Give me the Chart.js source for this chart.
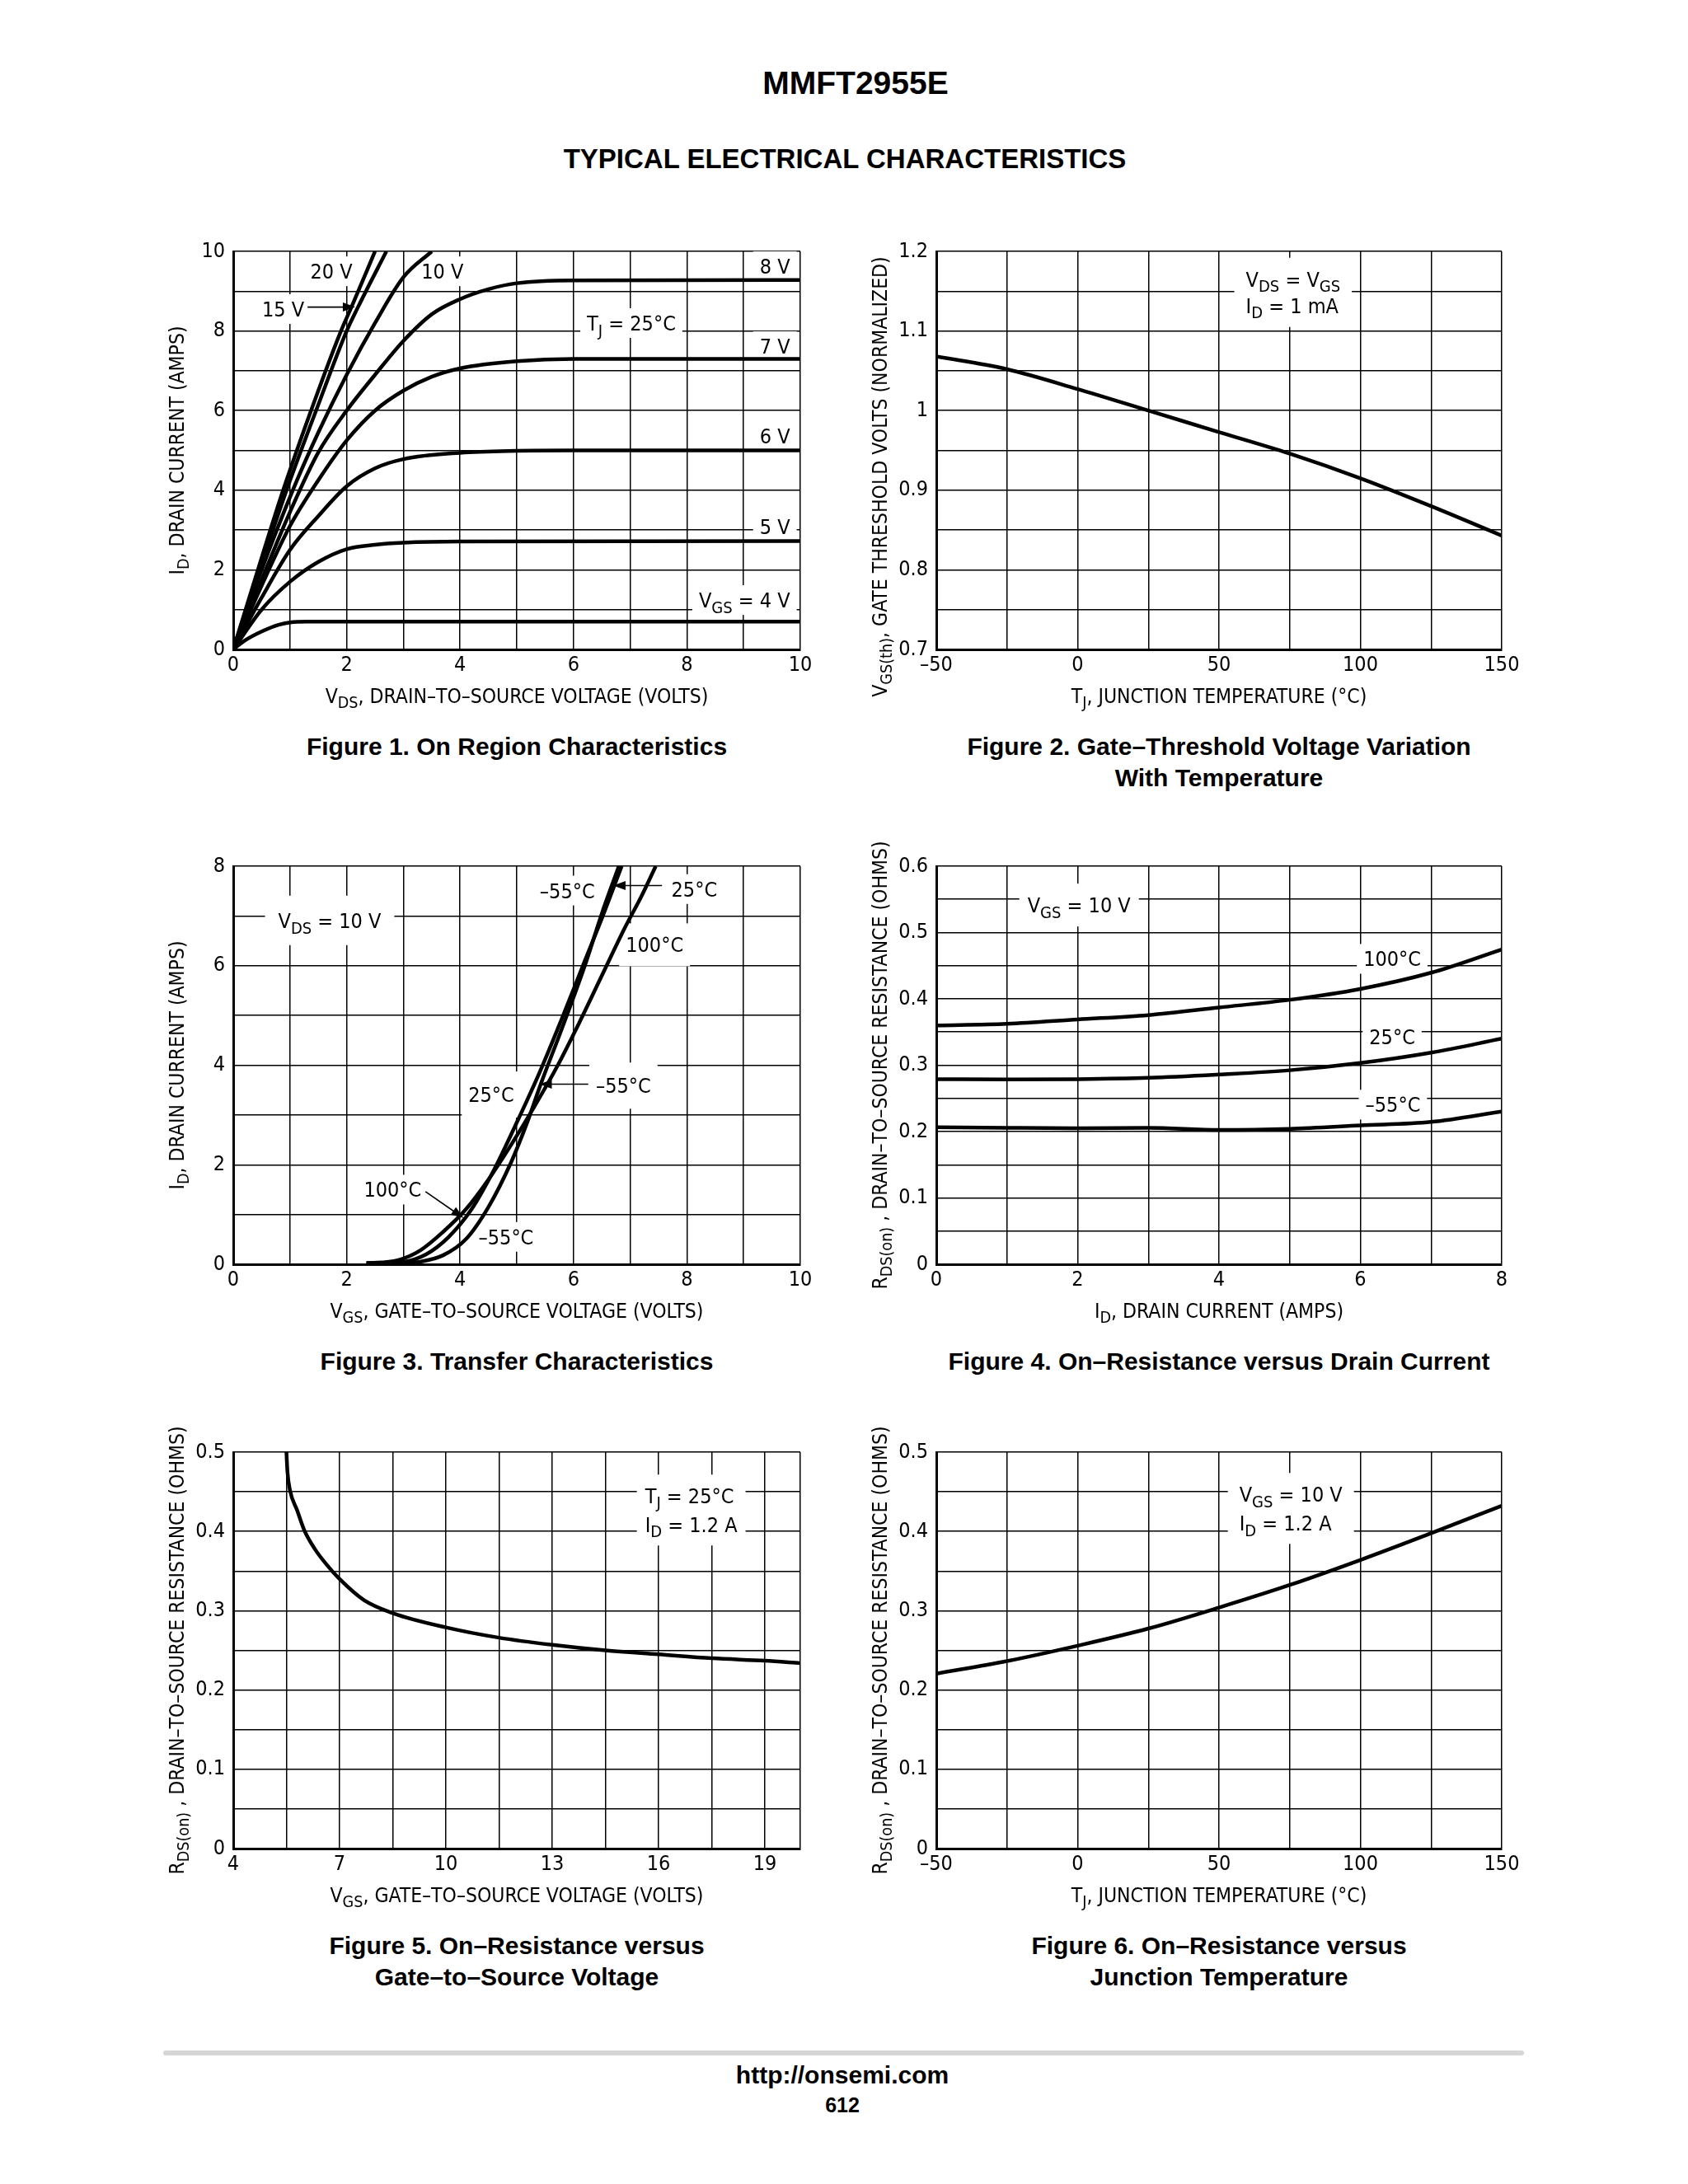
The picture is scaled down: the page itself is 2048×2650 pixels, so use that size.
<!DOCTYPE html>
<html>
<head>
<meta charset="utf-8">
<script src="https://cdn.jsdelivr.net/npm/chart.js@4.4.0/dist/chart.umd.min.js"></script>
<style>
  body { margin: 0; background: #fff; }
  #page { position: relative; width: 2048px; height: 2650px; background: #fff; color: #000;
          font-family: "Liberation Sans", Arial, sans-serif; overflow: hidden; }
  .t { position: absolute; white-space: nowrap; font-weight: bold; transform: translate(-50%, -50%); }
  .cap { font-size: 30px; }
  canvas { position: absolute; }
  #rule { position: absolute; left: 198px; top: 2488px; width: 1651px; height: 6px; background: #d6d6d6; border-radius: 3px; }
</style>
</head>
<body>
<div id="page">
  <div class="t" style="left:1038px; top:101px; font-size:39px;">MMFT2955E</div>
  <div class="t" style="left:1025px; top:193px; font-size:33px;">TYPICAL ELECTRICAL CHARACTERISTICS</div>

  <div class="t cap" style="left:627px; top:906px;">Figure 1. On Region Characteristics</div>
  <div class="t cap" style="left:1479px; top:906px;">Figure 2. Gate–Threshold Voltage Variation</div>
  <div class="t cap" style="left:1479px; top:944px;">With Temperature</div>
  <div class="t cap" style="left:627px; top:1652px;">Figure 3. Transfer Characteristics</div>
  <div class="t cap" style="left:1479px; top:1652px;">Figure 4. On–Resistance versus Drain Current</div>
  <div class="t cap" style="left:627px; top:2361px;">Figure 5. On–Resistance versus</div>
  <div class="t cap" style="left:627px; top:2399px;">Gate–to–Source Voltage</div>
  <div class="t cap" style="left:1479px; top:2361px;">Figure 6. On–Resistance versus</div>
  <div class="t cap" style="left:1479px; top:2399px;">Junction Temperature</div>

  <div id="rule"></div>
  <div class="t" style="left:1022px; top:2518px; font-size:30px;">http://onsemi.com</div>
  <div class="t" style="left:1022px; top:2554px; font-size:25px;">612</div>
</div>

<script>
// ---- Figure 1: on region characteristics (VDS in volts, ID in amps) ----
const f1_20V_vds = [0, 0.5, 0.88, 1.5, 1.9, 2.1, 2.5];
const f1_20V_id  = [0, 2.3, 4.0, 6.5, 8.0, 8.65, 10];
const f1_15V_vds = [0, 0.5, 0.94, 1.5, 2.0, 2.2, 2.7];
const f1_15V_id  = [0, 2.15, 4.0, 6.15, 8.0, 8.6, 10];
const f1_10V_vds = [0, 0.5, 1.05, 1.5, 2, 2.5, 3, 3.5];
const f1_10V_id  = [0, 2.0, 4.0, 5.45, 6.9, 8.2, 9.35, 10];
const f1_8V_vds  = [0, 0.5, 1, 1.5, 2, 2.5, 3, 3.5, 4, 4.5, 5, 6, 10];
const f1_8V_id   = [0, 1.75, 3.45, 4.95, 6.0, 6.9, 7.75, 8.42, 8.8, 9.05, 9.2, 9.27, 9.28];
const f1_7V_vds  = [0, 0.5, 1, 1.5, 2, 2.5, 3, 3.5, 4, 5, 6, 10];
const f1_7V_id   = [0, 1.6, 3.1, 4.25, 5.25, 6.0, 6.5, 6.85, 7.06, 7.24, 7.3, 7.3];
const f1_6V_vds  = [0, 0.5, 1, 1.5, 2, 2.5, 3, 4, 5, 6, 10];
const f1_6V_id   = [0, 1.3, 2.5, 3.35, 4.1, 4.55, 4.78, 4.94, 4.99, 5.0, 5.0];
const f1_5V_vds  = [0, 0.5, 1, 1.5, 2, 2.5, 3, 4, 10];
const f1_5V_id   = [0, 1.0, 1.7, 2.2, 2.52, 2.63, 2.68, 2.71, 2.72];
const f1_4V_vds  = [0, 0.2, 0.5, 0.8, 1.0, 1.3, 2, 10];
const f1_4V_id   = [0, 0.22, 0.45, 0.62, 0.68, 0.7, 0.7, 0.7];
const f1XLabels = [0, 2, 4, 6, 8, 10];
const f1YLabels = [0, 2, 4, 6, 8, 10];

// ---- Figure 2: gate threshold vs temperature ----
const f2_tj  = [-50, -25, 0, 25, 50, 75, 100, 125, 150];
const f2_vth = [1.068, 1.052, 1.027, 1.0, 0.973, 0.946, 0.915, 0.880, 0.843];
const f2XLabels = [-50, 0, 50, 100, 150];
const f2YLabels = [0.7, 0.8, 0.9, 1, 1.1, 1.2];

// ---- Figure 3: transfer characteristics ----
const f3_m55_vgs = [2.35, 3.0, 3.3, 3.7, 4.1, 4.5, 4.9, 5.2, 5.4, 5.8, 6.2, 6.5, 6.8];
const f3_m55_id  = [0.02, 0.02, 0.05, 0.18, 0.5, 1.15, 2.05, 2.9, 3.55, 4.75, 6.0, 7.05, 8.0];
const f3_25_vgs  = [2.35, 3.0, 3.4, 3.8, 4.2, 4.6, 5.0, 5.4, 5.8, 6.2, 6.5, 6.85];
const f3_25_id   = [0.02, 0.05, 0.2, 0.55, 1.1, 1.9, 2.85, 3.85, 4.95, 6.1, 6.95, 8.0];
const f3_100_vgs = [2.35, 2.9, 3.3, 3.7, 4.1, 4.5, 4.9, 5.3, 5.7, 6.1, 6.5, 6.9, 7.2, 7.45];
const f3_100_id  = [0.02, 0.08, 0.28, 0.65, 1.1, 1.7, 2.4, 3.15, 3.95, 4.85, 5.8, 6.75, 7.4, 8.0];
const f3XLabels = [0, 2, 4, 6, 8, 10];
const f3YLabels = [0, 2, 4, 6, 8];

// ---- Figure 4: on-resistance vs drain current ----
const f4_id   = [0, 1, 2, 3, 4, 5, 6, 7, 8];
const f4_100  = [0.360, 0.3625, 0.369, 0.3756, 0.387, 0.3986, 0.415, 0.4394, 0.4745];
const f4_25   = [0.279, 0.2785, 0.279, 0.281, 0.286, 0.2924, 0.3034, 0.319, 0.340];
const f4_m55  = [0.2066, 0.2056, 0.205, 0.2056, 0.2024, 0.204, 0.2092, 0.2145, 0.2302];
const f4XLabels = [0, 2, 4, 6, 8];
const f4YLabels = [0, 0.1, 0.2, 0.3, 0.4, 0.5, 0.6];

// ---- Figure 5: on-resistance vs gate-to-source voltage ----
const f5_vgs = [5.5, 5.53, 5.6, 5.8, 6.0, 6.3, 6.6, 7.0, 7.7, 8.5, 10, 11.5, 13, 14.5, 16, 17.5, 19, 20];
const f5_rds = [0.5, 0.475, 0.452, 0.427, 0.402, 0.378, 0.36, 0.34, 0.313, 0.297, 0.279, 0.266, 0.257, 0.25, 0.245, 0.24, 0.237, 0.234];
const f5XLabels = [4, 7, 10, 13, 16, 19];
const f5YLabels = [0, 0.1, 0.2, 0.3, 0.4, 0.5];

// ---- Figure 6: on-resistance vs junction temperature ----
const f6_tj  = [-50, -25, 0, 25, 50, 75, 100, 125, 150];
const f6_rds = [0.2207, 0.2365, 0.2559, 0.2775, 0.304, 0.3324, 0.364, 0.3977, 0.4324];
const f6XLabels = [-50, 0, 50, 100, 150];
const f6YLabels = [0, 0.1, 0.2, 0.3, 0.4, 0.5];

// ---------------------------------------------------------------
function pickNarrow() {
  const c = document.createElement('canvas').getContext('2d');
  const test = 'DRAIN CURRENT 0123456789';
  const cands = ['Liberation Sans Narrow', 'Arial Narrow', 'DejaVu Sans Condensed', 'Roboto Condensed'];
  for (const f of cands) {
    c.font = '40px monospace';
    const w0 = c.measureText(test).width;
    c.font = '40px "' + f + '", monospace';
    if (Math.abs(c.measureText(test).width - w0) > 1) return '"' + f + '"';
  }
  return '"Liberation Sans"';
}
const NARROW = pickNarrow() + ', "Liberation Sans", sans-serif';
const fnt = size => size + 'px ' + NARROW;

function range(a, b, s) {
  const r = [];
  for (let v = a; v <= b + 1e-9; v += s) r.push(+v.toFixed(6));
  return r;
}
function pts(xs, ys) { return xs.map((x, i) => ({ x: x, y: ys[i] })); }
function fmt(v) { return String(v).replace('-', '\u2013'); }

// text with _{sub} parts
function parseRich(s) {
  const out = [], re = /_\{([^}]*)\}/g;
  let last = 0, m;
  while ((m = re.exec(s))) {
    if (m.index > last) out.push([s.slice(last, m.index), false]);
    out.push([m[1], true]);
    last = re.lastIndex;
  }
  if (last < s.length) out.push([s.slice(last), false]);
  return out;
}
function richWidth(ctx, s, size) {
  let w = 0;
  parseRich(s).forEach(([t, sub]) => { ctx.font = fnt(sub ? size * 0.8 : size); w += ctx.measureText(t).width; });
  return w;
}
function drawRich(ctx, s, x, y, size) {
  let cx = x;
  const base = y + size * 0.36;
  ctx.textBaseline = 'alphabetic';
  ctx.textAlign = 'left';
  ctx.fillStyle = '#000';
  parseRich(s).forEach(([t, sub]) => {
    ctx.font = fnt(sub ? size * 0.8 : size);
    ctx.fillText(t, cx, sub ? base + size * 0.27 : base);
    cx += ctx.measureText(t).width;
  });
}

const notesPlugin = {
  id: 'notes',
  beforeDatasetsDraw(chart, args, opts) {
    const ctx = chart.ctx, xs = chart.scales.x, ys = chart.scales.y;
    const size = 25;
    ctx.save();
    (opts.labels || []).forEach(n => {
      const px = xs.getPixelForValue(n.x), py = ys.getPixelForValue(n.y);
      const lh = n.lh || 32;
      const widths = n.t.map(l => richWidth(ctx, l, size));
      const w = Math.max.apply(null, widths);
      const h = lh * n.t.length;
      const align = n.align || 'center';
      const left = align === 'left' ? px : align === 'right' ? px - w : px - w / 2;
      const top = py - h / 2;
      const padX = n.padX != null ? n.padX : 8, padY = n.padY != null ? n.padY : 2;
      ctx.fillStyle = '#fff';
      ctx.fillRect(left - padX, top - padY, w + 2 * padX, h + 2 * padY);
      n.t.forEach((l, i) => {
        const lx = align === 'left' ? left : align === 'right' ? px - widths[i] : px - widths[i] / 2;
        drawRich(ctx, l, lx, top + lh * (i + 0.5), size);
      });
    });
    ctx.restore();
  },
  afterDatasetsDraw(chart, args, opts) {
    const ctx = chart.ctx, xs = chart.scales.x, ys = chart.scales.y, a = chart.chartArea;
    ctx.save();
    (opts.arrows || []).forEach(r => {
      const x1 = xs.getPixelForValue(r.x1), y1 = ys.getPixelForValue(r.y1);
      const x2 = xs.getPixelForValue(r.x2), y2 = ys.getPixelForValue(r.y2);
      const ang = Math.atan2(y2 - y1, x2 - x1), L = 15, W = 5.5;
      ctx.strokeStyle = '#000'; ctx.fillStyle = '#000'; ctx.lineWidth = 1.6;
      ctx.beginPath(); ctx.moveTo(x1, y1);
      ctx.lineTo(x2 - Math.cos(ang) * L * 0.8, y2 - Math.sin(ang) * L * 0.8); ctx.stroke();
      ctx.beginPath(); ctx.moveTo(x2, y2);
      ctx.lineTo(x2 - Math.cos(ang) * L + Math.sin(ang) * W, y2 - Math.sin(ang) * L - Math.cos(ang) * W);
      ctx.lineTo(x2 - Math.cos(ang) * L - Math.sin(ang) * W, y2 - Math.sin(ang) * L + Math.cos(ang) * W);
      ctx.closePath(); ctx.fill();
    });
    const ts = 24.5;
    if (opts.xTitle) {
      const w = richWidth(ctx, opts.xTitle, ts);
      drawRich(ctx, opts.xTitle, (a.left + a.right) / 2 - w / 2, a.bottom + 56, ts);
    }
    if (opts.yTitle) {
      const w = richWidth(ctx, opts.yTitle, ts);
      ctx.translate(a.left - 69, (a.top + a.bottom) / 2 + (opts.yShift || 0));
      ctx.rotate(-Math.PI / 2);
      drawRich(ctx, opts.yTitle, -w / 2, 0, ts);
    }
    ctx.restore();
  }
};

const page = document.getElementById('page');
const PAD = { l: 140, t: 30, r: 45, b: 100 };

function axis(min, max, grid, labels) {
  return {
    type: 'linear', min: min, max: max,
    afterBuildTicks: s => { s.ticks = grid.map(v => ({ value: v })); },
    ticks: {
      autoSkip: false, maxRotation: 0, color: '#000', font: { family: NARROW, size: 25 },
      callback: v => labels.some(l => Math.abs(l - v) < 1e-9) ? fmt(v) : ''
    },
    grid: { color: '#000', lineWidth: 1.5, drawTicks: false },
    border: { color: '#000', width: 3 }
  };
}

function makeChart(box, series, xAx, yAx, notes) {
  const c = document.createElement('canvas');
  c.width = box.R - box.L + PAD.l + PAD.r;
  c.height = box.B - box.T + PAD.t + PAD.b;
  c.style.left = (box.L - PAD.l) + 'px';
  c.style.top = (box.T - PAD.t) + 'px';
  page.appendChild(c);
  xAx.afterFit = s => { s.height = PAD.b; };
  yAx.afterFit = s => { s.width = PAD.l; };
  xAx.ticks.padding = 4;
  yAx.ticks.padding = 10;
  new Chart(c, {
    type: 'line',
    data: {
      datasets: series.map(s => ({
        data: pts(s[0], s[1]), borderColor: '#000', borderWidth: 4.5, pointRadius: 0,
        cubicInterpolationMode: 'monotone', fill: false, borderJoinStyle: 'round'
      }))
    },
    options: {
      responsive: false, animation: false, devicePixelRatio: 1,
      layout: { padding: { left: 0, top: PAD.t, right: PAD.r, bottom: 0 } },
      plugins: { legend: { display: false }, tooltip: { enabled: false }, notes: notes },
      scales: { x: xAx, y: yAx }
    },
    plugins: [notesPlugin]
  });
}

const boxes = {
  f1: { L: 283, T: 305, R: 971, B: 788 },
  f2: { L: 1136, T: 305, R: 1822, B: 788 },
  f3: { L: 283, T: 1051, R: 971, B: 1534 },
  f4: { L: 1136, T: 1051, R: 1822, B: 1534 },
  f5: { L: 283, T: 1762, R: 971, B: 2243 },
  f6: { L: 1136, T: 1762, R: 1822, B: 2243 }
};

// Figure 1
makeChart(boxes.f1,
  [[f1_20V_vds, f1_20V_id], [f1_15V_vds, f1_15V_id], [f1_10V_vds, f1_10V_id], [f1_8V_vds, f1_8V_id],
   [f1_7V_vds, f1_7V_id], [f1_6V_vds, f1_6V_id], [f1_5V_vds, f1_5V_id], [f1_4V_vds, f1_4V_id]],
  axis(0, 10, range(0, 10, 1), f1XLabels), axis(0, 10, range(0, 10, 1), f1YLabels),
  {
    xTitle: 'V_{DS}, DRAIN\u2013TO\u2013SOURCE VOLTAGE (VOLTS)',
    yTitle: 'I_{D}, DRAIN CURRENT (AMPS)',
    labels: [
      { x: 1.73, y: 9.5, t: ['20 V'] },
      { x: 3.69, y: 9.5, t: ['10 V'] },
      { x: 0.88, y: 8.55, t: ['15 V'] },
      { x: 7.02, y: 8.2, t: ['T_{J} = 25°C'] },
      { x: 9.82, y: 9.63, t: ['8 V'], align: 'right' },
      { x: 9.82, y: 7.62, t: ['7 V'], align: 'right' },
      { x: 9.82, y: 5.36, t: ['6 V'], align: 'right' },
      { x: 9.82, y: 3.09, t: ['5 V'], align: 'right' },
      { x: 9.82, y: 1.24, t: ['V_{GS} = 4 V'], align: 'right' }
    ],
    arrows: [{ x1: 1.31, y1: 8.6, x2: 2.15, y2: 8.6 }]
  });

// Figure 2
makeChart(boxes.f2, [[f2_tj, f2_vth]],
  axis(-50, 150, range(-50, 150, 25), f2XLabels), axis(0.7, 1.2, range(0.7, 1.2, 0.05), f2YLabels),
  {
    xTitle: 'T_{J}, JUNCTION TEMPERATURE (°C)',
    yTitle: 'V_{GS(th)}, GATE THRESHOLD VOLTS (NORMALIZED)',
    yShift: 32,
    labels: [{ x: 59.5, y: 1.1485, t: ['V_{DS} = V_{GS}', 'I_{D} = 1 mA'], align: 'left', lh: 32, padX: 14, padY: 10 }]
  });

// Figure 3
makeChart(boxes.f3, [[f3_m55_vgs, f3_m55_id], [f3_25_vgs, f3_25_id], [f3_100_vgs, f3_100_id]],
  axis(0, 10, range(0, 10, 1), f3XLabels), axis(0, 8, range(0, 8, 1), f3YLabels),
  {
    xTitle: 'V_{GS}, GATE\u2013TO\u2013SOURCE VOLTAGE (VOLTS)',
    yTitle: 'I_{D}, DRAIN CURRENT (AMPS)',
    labels: [
      { x: 1.70, y: 6.91, t: ['V_{DS} = 10 V'], padX: 16, padY: 14 },
      { x: 5.89, y: 7.51, t: ['\u201355°C'] },
      { x: 8.13, y: 7.54, t: ['25°C'] },
      { x: 7.43, y: 6.42, t: ['100°C'], padY: 10 },
      { x: 4.55, y: 3.41, t: ['25°C'], padY: 12 },
      { x: 6.88, y: 3.59, t: ['\u201355°C'], padY: 12 },
      { x: 2.81, y: 1.50, t: ['100°C'] },
      { x: 4.81, y: 0.55, t: ['\u201355°C'] }
    ],
    arrows: [
      { x1: 7.56, y1: 7.61, x2: 6.70, y2: 7.61 },
      { x1: 6.26, y1: 3.62, x2: 5.40, y2: 3.62 },
      { x1: 3.39, y1: 1.46, x2: 4.06, y2: 0.93 }
    ]
  });

// Figure 4
makeChart(boxes.f4, [[f4_id, f4_100], [f4_id, f4_25], [f4_id, f4_m55]],
  axis(0, 8, range(0, 8, 1), f4XLabels), axis(0, 0.6, range(0, 0.6, 0.05), f4YLabels),
  {
    xTitle: 'I_{D}, DRAIN CURRENT (AMPS)',
    yTitle: 'R_{DS(on)} , DRAIN\u2013TO\u2013SOURCE RESISTANCE (OHMS)',
    labels: [
      { x: 2.02, y: 0.5414, t: ['V_{GS} = 10 V'], padX: 10, padY: 10 },
      { x: 6.45, y: 0.4603, t: ['100°C'] },
      { x: 6.45, y: 0.3426, t: ['25°C'] },
      { x: 6.46, y: 0.2406, t: ['\u201355°C'] }
    ]
  });

// Figure 5
makeChart(boxes.f5, [[f5_vgs, f5_rds]],
  axis(4, 20, range(4, 19, 1.5).concat([20]), f5XLabels), axis(0, 0.5, range(0, 0.5, 0.05), f5YLabels),
  {
    xTitle: 'V_{GS}, GATE\u2013TO\u2013SOURCE VOLTAGE (VOLTS)',
    yTitle: 'R_{DS(on)} , DRAIN\u2013TO\u2013SOURCE RESISTANCE (OHMS)',
    labels: [{ x: 15.62, y: 0.427, t: ['T_{J} = 25°C', 'I_{D} = 1.2 A'], align: 'left', lh: 35, padX: 10, padY: 8 }]
  });

// Figure 6
makeChart(boxes.f6, [[f6_tj, f6_rds]],
  axis(-50, 150, range(-50, 150, 25), f6XLabels), axis(0, 0.5, range(0, 0.5, 0.05), f6YLabels),
  {
    xTitle: 'T_{J}, JUNCTION TEMPERATURE (°C)',
    yTitle: 'R_{DS(on)} , DRAIN\u2013TO\u2013SOURCE RESISTANCE (OHMS)',
    labels: [{ x: 57.2, y: 0.429, t: ['V_{GS} = 10 V', 'I_{D} = 1.2 A'], align: 'left', lh: 35, padX: 14, padY: 8 }]
  });
</script>
</body>
</html>
